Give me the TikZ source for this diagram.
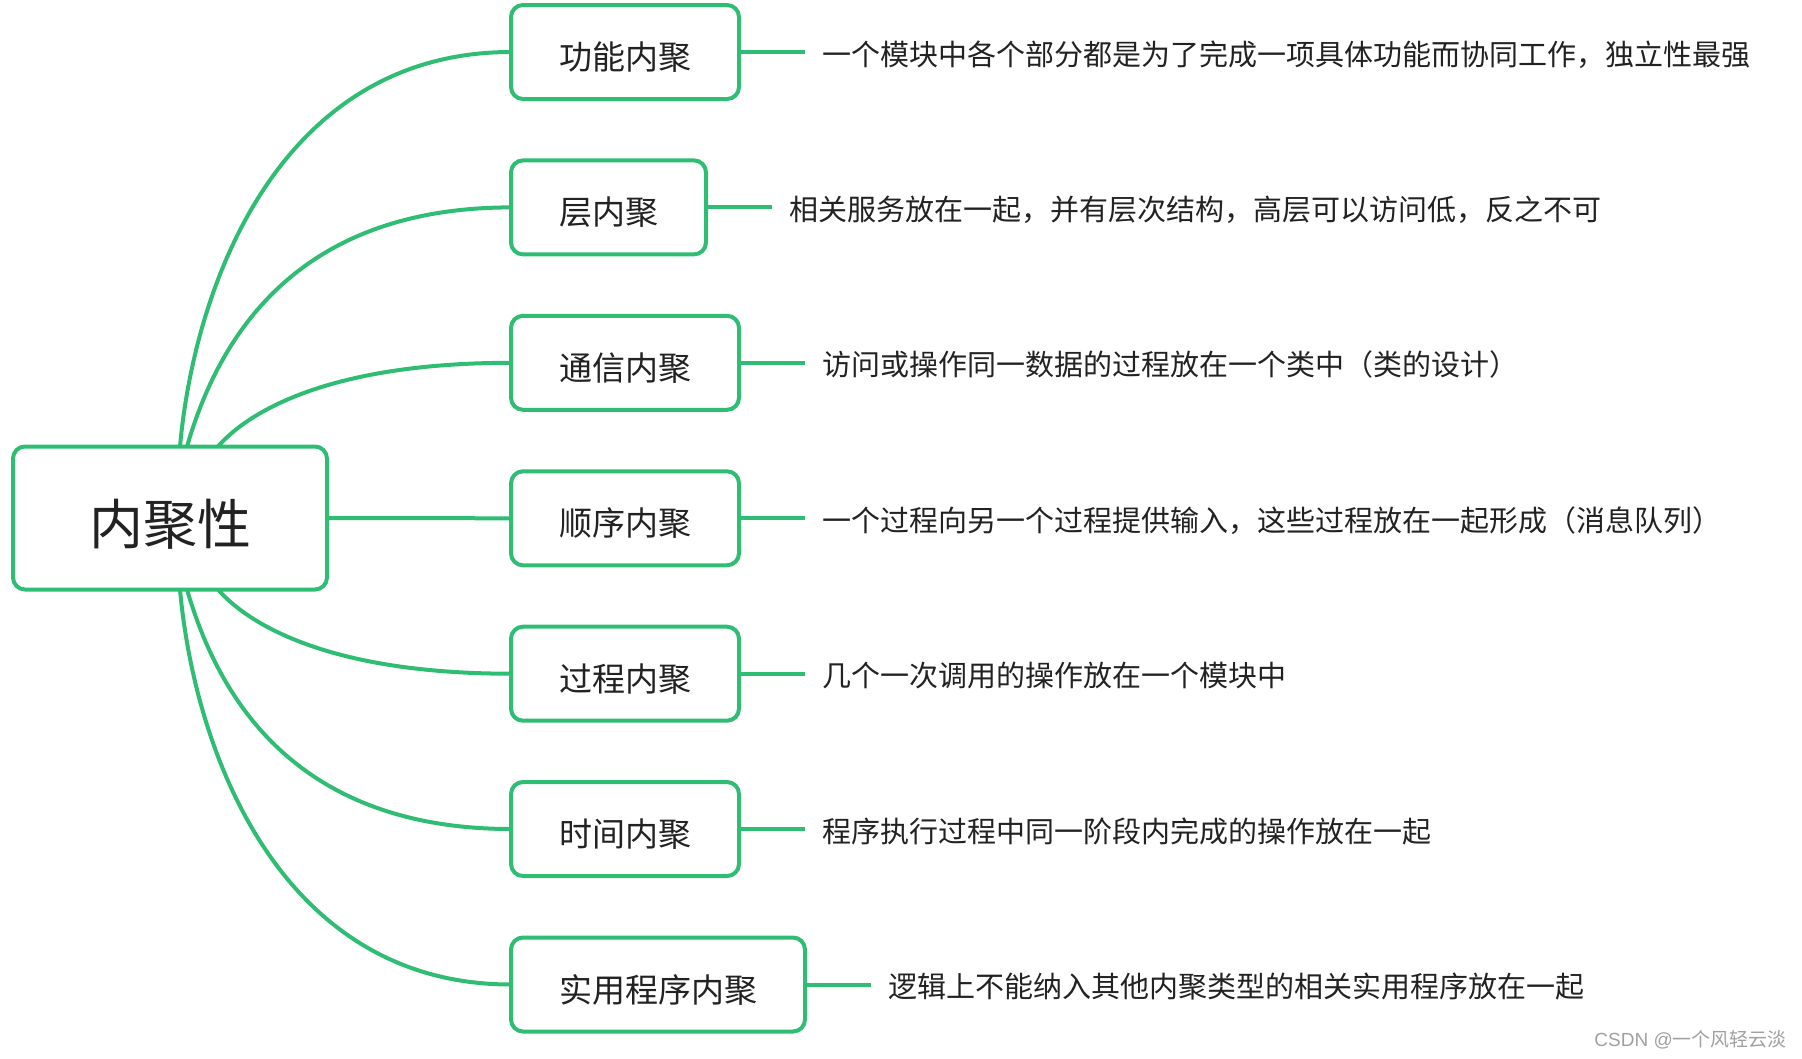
\documentclass[tikz,border=0pt]{standalone}
\usepackage{fontspec}
\setmainfont{Noto Sans CJK SC}
\newfontfamily\wmlatin{Liberation Sans}
\usetikzlibrary{calc}
\definecolor{mgreen}{RGB}{46,189,115}
\definecolor{mtext}{RGB}{34,34,34}
\definecolor{wmark}{RGB}{160,160,160}
\begin{document}
\begin{tikzpicture}[x=1pt,y=-1pt,
  conn/.style={draw=mgreen, line width=4pt},
  rootbox/.style={draw=mgreen, line width=4pt, rounded corners=12pt, fill=white, outer sep=0pt,
    inner xsep=76pt, inner ysep=0pt, minimum height=143pt, font=\fontsize{54}{60}\selectfont,
    text=mtext, text height=52pt, text depth=0pt},
  box/.style={draw=mgreen, line width=4pt, rounded corners=12pt, fill=white, outer sep=0pt,
    inner xsep=48pt, inner ysep=0pt, minimum height=94pt, font=\fontsize{33}{40}\selectfont,
    text=mtext, text height=35pt, text depth=0pt, anchor=west},
  desc/.style={anchor=west, inner xsep=17pt, inner ysep=0pt, outer sep=0pt, font=\fontsize{29}{34}\selectfont,
    text=mtext, text height=26pt, text depth=0pt}
]
\useasboundingbox (0,0) rectangle (1802,1058);

\node[rootbox] (root) at (170,518) {内聚性};

\node[box] (b1) at (511,52) {功能内聚};
\node[box] (b2) at (511,207.4) {层内聚};
\node[box] (b3) at (511,362.8) {通信内聚};
\node[box] (b4) at (511,518.3) {顺序内聚};
\node[box] (b5) at (511,673.7) {过程内聚};
\node[box] (b6) at (511,829) {时间内聚};
\node[box] (b7) at (511,984.5) {实用程序内聚};

\node[desc] (d1) at ($(b1.east)+(66,0)$) {一个模块中各个部分都是为了完成一项具体功能而协同工作，独立性最强};
\node[desc] (d2) at ($(b2.east)+(66,0)$) {相关服务放在一起，并有层次结构，高层可以访问低，反之不可};
\node[desc] (d3) at ($(b3.east)+(66,0)$) {访问或操作同一数据的过程放在一个类中（类的设计）};
\node[desc] (d4) at ($(b4.east)+(66,0)$) {一个过程向另一个过程提供输入，这些过程放在一起形成（消息队列）};
\node[desc] (d5) at ($(b5.east)+(66,0)$) {几个一次调用的操作放在一个模块中};
\node[desc] (d6) at ($(b6.east)+(66,0)$) {程序执行过程中同一阶段内完成的操作放在一起};
\node[desc] (d7) at ($(b7.east)+(66,0)$) {逻辑上不能纳入其他内聚类型的相关实用程序放在一起};

\foreach \i in {1,...,7}{\draw[conn] (b\i.east) -- (d\i.west);}

\draw[conn] ($(root.north west)+(167,0)$) .. controls +(15,-166) and +(-229,0) .. (b1.west);
\draw[conn] ($(root.north west)+(174,0)$) .. controls +(28,-96) and +(-225,0) .. (b2.west);
\draw[conn] ($(root.north west)+(205,0)$) .. controls +(27,-31) and +(-189,0) .. (b3.west);
\draw[conn] (root.east) -- (b4.west);
\draw[conn] ($(root.south west)+(205,0)$) .. controls +(27,31) and +(-189,0) .. (b5.west);
\draw[conn] ($(root.south west)+(174,0)$) .. controls +(28,96) and +(-225,0) .. (b6.west);
\draw[conn] ($(root.south west)+(167,0)$) .. controls +(15,166) and +(-229,0) .. (b7.west);

\node[anchor=east, inner sep=0pt, text=wmark, font=\fontsize{19}{22}\selectfont] (wm) at (1787,1040) {{\wmlatin CSDN @}一个风轻云淡};
\end{tikzpicture}
\end{document}
